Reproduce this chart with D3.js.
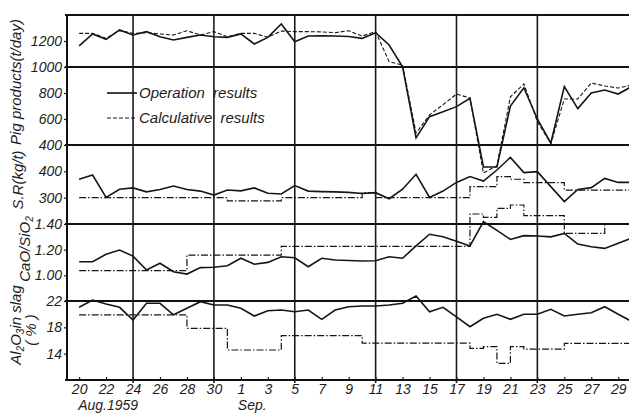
<!DOCTYPE html>
<meta charset="utf-8">

<head>
    <style>
        body {
            margin: 0;
            background: #fff;
        }

        .axis text,
        .lab {
            font-family: 'Liberation Sans', Arial, sans-serif;
            font-style: italic;
            font-size: 14px;
            fill: #1c1c1c;
        }

        .x-axis text {
            font-size: 14px;
        }

        .axis line {
            stroke: #1c1c1c;
            stroke-width: 1.2;
        }

        .frame {
            stroke: #111;
            stroke-width: 2;
        }

        .grid {
            stroke: #1c1c1c;
            stroke-width: 1.6;
        }

        .series {
            fill: none;
            stroke: #151515;
        }

        .legend {
            font-size: 15px;
            word-spacing: 4px;
        }
    </style>
</head>

<script src="https://d3js.org/d3.v7.min.js"></script>

<div id="chart"></div>

<script>

    // day index 0 = Aug 20, 1959 ... 41 = Sep 30
    const days = d3.range(0, 42);
    const xTickDays = [0, 2, 4, 6, 8, 10, 12, 14, 16, 18, 20, 22, 24, 26, 28, 30, 32, 34, 36, 38, 40];
    const xTickLabels = ["20", "22", "24", "26", "28", "30", "1", "3", "5", "7", "9", "11", "13", "15", "17", "19", "21", "23", "25", "27", "29"];
    const gridDays = [4, 10, 16, 22, 28, 34];

    // pig products (t/day)
    const pigOperation = [1162, 1254, 1213, 1285, 1246, 1272, 1233, 1208, 1228, 1246, 1233, 1228, 1254, 1177, 1228, 1331, 1195, 1238,
        1240, 1238, 1235, 1220, 1264, 1169, 1002, 454, 618, 655, 695, 760, 231, 231, 700, 840, 600, 415, 850, 680, 800, 823, 792, 850];
    const pigCalc = [1259, 1259, 1221, 1279, 1259, 1264, 1254, 1246, 1279, 1246, 1272, 1233, 1259, 1259, 1228, 1277, 1272, 1272,
        1270, 1264, 1279, 1238, 1272, 1041, 1015, 492, 631, 710, 792, 761, 185, 240, 770, 870, 580, 410, 754, 754, 877, 854, 838, 862];

    // S.R (kg/t)
    const srActual = [370, 386, 301, 332, 337, 322, 331, 344, 331, 325, 310, 329, 326, 337, 317, 314, 346, 325,
        323, 322, 320, 316, 319, 296, 332, 389, 301, 325, 358, 380, 363, 405, 453, 395, 399, 342, 285, 331, 338, 373, 358, 358];
    const srStepDays = [0, 11, 15, 21, 22, 29, 31, 32, 33, 36, 41];
    const srStepVals = [300, 288, 300, 319, 300, 342, 380, 370, 357, 329, 329];

    // CaO/SiO2
    const basicity = [1.106, 1.106, 1.164, 1.197, 1.15, 1.041, 1.094, 1.028, 1.01, 1.06, 1.063, 1.075, 1.133, 1.086, 1.101, 1.145, 1.137, 1.067,
        1.133, 1.12, 1.115, 1.112, 1.114, 1.145, 1.133, 1.23, 1.32, 1.30, 1.265, 1.229, 1.418, 1.35, 1.28, 1.309, 1.306, 1.30, 1.327, 1.244, 1.223, 1.21, 1.25, 1.29];
    const basStepDays = [0, 8, 15, 29, 30, 31, 32, 33, 36, 39, 41];
    const basStepVals = [1.036, 1.158, 1.225, 1.478, 1.452, 1.522, 1.548, 1.465, 1.327, 1.40, 1.40];

    // Al2O3 in slag (%)
    const alumina = [21.04, 22.15, 21.54, 21.04, 19.1, 21.65, 21.65, 19.9, 20.89, 21.9, 21.39, 21.39, 20.89, 19.72, 20.53, 20.63, 20.37, 20.63,
        19.22, 20.63, 21.13, 21.24, 21.24, 21.4, 21.65, 22.76, 20.37, 21.04, 19.6, 18.1, 19.37, 19.98, 19.22, 19.98, 19.98, 20.74, 19.72, 19.98, 20.22, 21.13, 19.98, 18.9];
    const alStepDays = [0, 8, 11, 15, 21, 29, 30, 31, 32, 33, 36, 41];
    const alStepVals = [19.9, 17.85, 14.56, 16.73, 15.6, 14.8, 15.06, 12.53, 15.06, 14.7, 15.55, 15.55];

    const width = 629, height = 415;

    const svg = d3.select("#chart")
        .append("svg")
        .attr("width", width)
        .attr("height", height);

    // scales
    const x = d3.scaleLinear().domain([-0.9, 40.8]).range([67, 629]);
    const yPig = d3.scaleLinear().domain([400, 1400]).range([145, 15]);
    const ySR = d3.scaleLinear().domain([200, 500]).range([224, 145]);
    const yBas = d3.scaleLinear().domain([0.8, 1.4]).range([301, 224]);
    const yAl = d3.scaleLinear().domain([10, 22]).range([380, 301]);

    // frame: horizontal panel borders
    const hLines = [yPig(1400), yPig(1000), yPig(400), ySR(200), yBas(0.8), yAl(10)];
    svg.selectAll(".hline")
        .data(hLines)
        .enter()
        .append("line")
        .attr("class", "frame")
        .attr("x1", x.range()[0] - 2)
        .attr("x2", width)
        .attr("y1", d => d)
        .attr("y2", d => d);

    svg.append("line")
        .attr("class", "frame")
        .attr("x1", x.range()[0]).attr("x2", x.range()[0])
        .attr("y1", yPig(1400)).attr("y2", yAl(10));

    // vertical grid
    svg.selectAll(".grid")
        .data(gridDays)
        .enter()
        .append("line")
        .attr("class", "grid")
        .attr("x1", d => x(d)).attr("x2", d => x(d))
        .attr("y1", yPig(1400)).attr("y2", yAl(10) + 3);

    // axes
    svg.append("g")
        .attr("class", "axis x-axis")
        .attr("transform", "translate(0," + yAl(10) + ")")
        .call(d3.axisBottom(x).tickValues(xTickDays).tickFormat((d, i) => xTickLabels[i]).tickSize(-3).tickPadding(4))
        .call(g => g.select(".domain").remove());

    function leftAxis(scale, values, fmt) {
        svg.append("g")
            .attr("class", "axis")
            .attr("transform", "translate(" + x.range()[0] + ",0)")
            .call(d3.axisLeft(scale).tickValues(values).tickFormat(fmt).tickSize(3).tickPadding(2))
            .call(g => g.select(".domain").remove());
    }
    leftAxis(yPig, [400, 600, 800, 1000, 1200], d3.format("d"));
    leftAxis(ySR, [300, 400], d3.format("d"));
    leftAxis(yBas, [1.0, 1.2, 1.4], d3.format(".2f"));
    leftAxis(yAl, [14, 18, 22], d3.format("d"));

    // series
    function drawLine(values, scale, dash, w) {
        svg.append("path")
            .datum(values)
            .attr("class", "series")
            .attr("stroke-width", w)
            .attr("stroke-dasharray", dash)
            .attr("d", d3.line().x((d, i) => x(days[i])).y(d => scale(d)));
    }
    function drawStep(stepDays, stepVals, scale) {
        svg.append("path")
            .datum(stepDays.map((d, i) => [d, stepVals[i]]))
            .attr("class", "series")
            .attr("stroke-width", 1.2)
            .attr("stroke-dasharray", "7,2,1.5,2")
            .attr("d", d3.line().curve(d3.curveStepAfter).x(d => x(d[0])).y(d => scale(d[1])));
    }

    drawLine(pigCalc, yPig, "4,2", 1.1);
    drawLine(pigOperation, yPig, null, 1.6);
    drawStep(srStepDays, srStepVals, ySR);
    drawLine(srActual, ySR, null, 1.6);
    drawStep(basStepDays, basStepVals, yBas);
    drawLine(basicity, yBas, null, 1.6);
    drawStep(alStepDays, alStepVals, yAl);
    drawLine(alumina, yAl, null, 1.6);

    // legend
    svg.append("line").attr("class", "series").attr("stroke-width", 1.6)
        .attr("x1", 107).attr("x2", 137).attr("y1", 93).attr("y2", 93);
    svg.append("line").attr("class", "series").attr("stroke-width", 1.1).attr("stroke-dasharray", "4,2")
        .attr("x1", 107).attr("x2", 137).attr("y1", 118).attr("y2", 118);
    svg.append("text").attr("class", "lab legend").attr("x", 139).attr("y", 98).text("Operation results");
    svg.append("text").attr("class", "lab legend").attr("x", 139).attr("y", 123).text("Calculative results");

    // x labels under the axis
    svg.append("text").attr("class", "lab").style("font-size", "14px")
        .attr("x", x(0) - 1).attr("y", 410).text("Aug.1959");
    svg.append("text").attr("class", "lab").style("font-size", "14px")
        .attr("x", x(12) - 3).attr("y", 410).text("Sep.");

    // y titles (rotated)
    function yTitle(cx, cy, parts) {
        const t = svg.append("text")
            .attr("class", "lab")
            .attr("text-anchor", "middle")
            .attr("transform", "translate(" + cx + "," + cy + ") rotate(-90)")
            .style("font-size", "15px");
        parts.forEach(p => {
            const s = t.append("tspan").text(p[0]);
            if (p[1]) s.style("font-size", "10px").attr("dy", 3);
            if (p[2]) s.attr("dy", -3);
        });
    }
    yTitle(21, 82, [["Pig products(t/day)"]]);
    yTitle(23, 180, [["S.R(kg/t)"]]);
    yTitle(30, 249, [["CaO/SiO"], ["2", true], ["", false, true]]);
    yTitle(21, 325, [["Al"], ["2", true], ["O", false, true], ["3", true], ["in slag", false, true]]);
    yTitle(36, 330, [["( % )"]]);

</script>
